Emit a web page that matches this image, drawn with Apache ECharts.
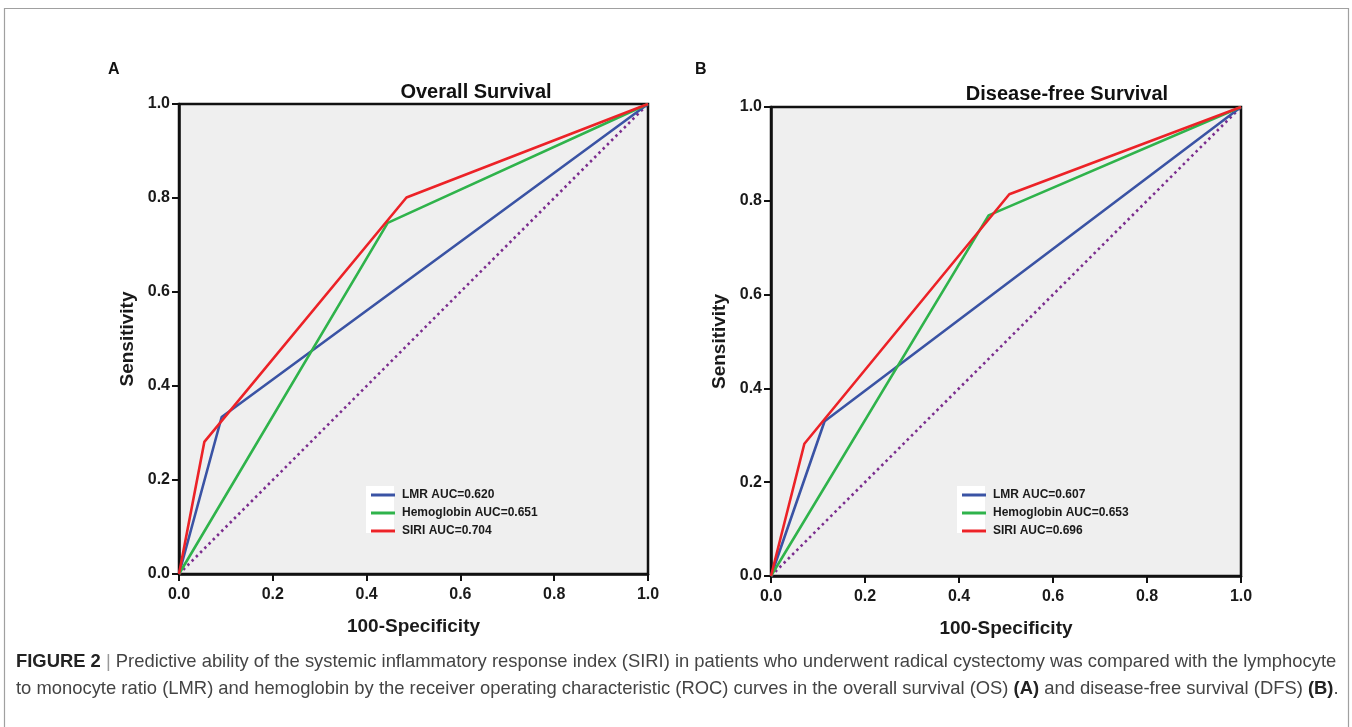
<!DOCTYPE html>
<html>
<head>
<meta charset="utf-8">
<script src="https://cdn.jsdelivr.net/npm/echarts@6/dist/echarts.min.js"></script>
<style>
html,body{margin:0;padding:0;background:#fff;}
#c{width:1352px;height:727px;}
</style>
</head>
<body>
<div id="c"></div>
<script>
// ---- Data ----
const xTicks = [0.0, 0.2, 0.4, 0.6, 0.8, 1.0];
const yTicks = [0.0, 0.2, 0.4, 0.6, 0.8, 1.0];
const refLine = [[0, 0], [1, 1]];

// Panel A: Overall Survival
const osNames = ['LMR AUC=0.620', 'Hemoglobin AUC=0.651', 'SIRI AUC=0.704'];
const osLMR = [[0, 0], [0.091, 0.334], [1, 1]];
const osHb = [[0, 0], [0.445, 0.747], [1, 1]];
const osSIRI = [[0, 0], [0.054, 0.281], [0.485, 0.801], [1, 1]];

// Panel B: Disease-free Survival
const dfsNames = ['LMR AUC=0.607', 'Hemoglobin AUC=0.653', 'SIRI AUC=0.696'];
const dfsLMR = [[0, 0], [0.114, 0.330], [1, 1]];
const dfsHb = [[0, 0], [0.463, 0.769], [1, 1]];
const dfsSIRI = [[0, 0], [0.071, 0.282], [0.507, 0.814], [1, 1]];

const colBlue = '#3a53a4', colGreen = '#2fb34b', colRed = '#ec2227', colPurple = '#7b2d8e';
const FONT = '"Liberation Sans", Arial, Helvetica, sans-serif';
const CAP = 18.4;

const chart = echarts.init(document.getElementById('c'), null, {renderer: 'canvas'});

function xAxisCfg(gi) {
  return {
    type: 'value', gridIndex: gi, min: 0, max: 1, interval: 0.2,
    name: '100-Specificity', nameLocation: 'middle', nameGap: 43,
    nameTextStyle: {fontFamily: FONT, fontWeight: 'bold', fontSize: 19, color: '#1a1a1a'},
    axisLine: {show: true, onZero: false, lineStyle: {color: '#111', width: 2.5}},
    axisTick: {show: true, inside: false, length: 7, lineStyle: {color: '#111', width: 2}},
    axisLabel: {fontFamily: FONT, fontWeight: 'bold', fontSize: 16, color: '#1a1a1a', margin: 13,
      formatter: v => v.toFixed(1)},
    splitLine: {show: false}
  };
}
function yAxisCfg(gi) {
  return {
    type: 'value', gridIndex: gi, min: 0, max: 1, interval: 0.2,
    name: 'Sensitivity', nameLocation: 'middle', nameGap: 42,
    nameTextStyle: {fontFamily: FONT, fontWeight: 'bold', fontSize: 19, color: '#1a1a1a'},
    axisLine: {show: true, onZero: false, lineStyle: {color: '#111', width: 2.5}},
    axisTick: {show: true, inside: false, length: 7, lineStyle: {color: '#111', width: 2}},
    axisLabel: {fontFamily: FONT, fontWeight: 'bold', fontSize: 16, color: '#1a1a1a', margin: 9,
      formatter: v => v.toFixed(1)},
    splitLine: {show: false}
  };
}
function lineSeries(name, data, color, gi) {
  return {
    type: 'line', name: name, data: data, xAxisIndex: gi, yAxisIndex: gi,
    showSymbol: false, symbol: 'none', animation: false,
    lineStyle: {color: color, width: 2.6}, itemStyle: {color: color}, z: 3
  };
}
function refSeries(gi) {
  return {
    type: 'line', name: 'ref' + gi, data: refLine, xAxisIndex: gi, yAxisIndex: gi,
    showSymbol: false, symbol: 'none', animation: false,
    lineStyle: {color: colPurple, width: 2.6, type: [2.5, 3.5]}, z: 2
  };
}
function legendCfg(names, left) {
  return {
    data: names, orient: 'vertical', left: left, top: 484,
    icon: 'rect', itemWidth: 24, itemHeight: 3, itemGap: 6,
    selectedMode: false,
    textStyle: {fontFamily: FONT, fontWeight: 'bold', fontSize: 12, color: '#1a1a1a', padding: [0, 0, 0, 2]}
  };
}

const option = {
  animation: false,
  backgroundColor: '#ffffff',
  grid: [
    {left: 179, top: 104, width: 469, height: 470, show: true, backgroundColor: '#efefef',
     borderColor: '#111', borderWidth: 2.5, containLabel: false},
    {left: 771, top: 107, width: 470, height: 469, show: true, backgroundColor: '#efefef',
     borderColor: '#111', borderWidth: 2.5, containLabel: false}
  ],
  xAxis: [xAxisCfg(0), xAxisCfg(1)],
  yAxis: [yAxisCfg(0), yAxisCfg(1)],
  legend: [legendCfg(osNames, 366), legendCfg(dfsNames, 957)],
  title: [
    {text: 'A', left: 103, top: 57, textStyle: {fontFamily: FONT, fontWeight: 'bold', fontSize: 16, color: '#111'}},
    {text: 'B', left: 690, top: 57, textStyle: {fontFamily: FONT, fontWeight: 'bold', fontSize: 16, color: '#111'}},
    {text: 'Overall Survival', left: 471, top: 77, textAlign: 'center',
     textStyle: {fontFamily: FONT, fontWeight: 'bold', fontSize: 20, color: '#111'}},
    {text: 'Disease-free Survival', left: 1062, top: 79, textAlign: 'center',
     textStyle: {fontFamily: FONT, fontWeight: 'bold', fontSize: 20, color: '#111'}},
    {
      left: 11, top: 643,
      text: '{b|FIGURE 2} {s||} {n|Predictive ability of the systemic inflammatory response index (SIRI) in patients who underwent radical cystectomy was compared with the lymphocyte}\n' +
            '{n|to monocyte ratio (LMR) and hemoglobin by the receiver operating characteristic (ROC) curves in the overall survival (OS)} {b|(A)} {n|and disease-free survival (DFS)} {b|(B)}{n|.}',
      textStyle: {
        fontFamily: FONT, fontSize: CAP, fontWeight: 'normal', color: '#444', lineHeight: 27,
        rich: {
          b: {fontFamily: FONT, fontWeight: 'bold', fontSize: CAP, color: '#222', lineHeight: 27},
          s: {fontFamily: FONT, fontWeight: 'normal', fontSize: CAP, color: '#999', lineHeight: 27},
          n: {fontFamily: FONT, fontWeight: 'normal', fontSize: CAP, color: '#444', lineHeight: 27}
        }
      }
    }
  ],
  graphic: [
    {type: 'rect', shape: {x: 4.5, y: 8.5, width: 1344, height: 730}, style: {fill: 'none', stroke: '#a0a0a0', lineWidth: 1.2}, z: 0, silent: true},
    {type: 'rect', shape: {x: 366, y: 486, width: 28, height: 47}, style: {fill: '#ffffff'}, z: 4, silent: true},
    {type: 'rect', shape: {x: 957, y: 486, width: 28, height: 47}, style: {fill: '#ffffff'}, z: 4, silent: true}
  ],
  series: [
    refSeries(0),
    lineSeries(osNames[0], osLMR, colBlue, 0),
    lineSeries(osNames[1], osHb, colGreen, 0),
    lineSeries(osNames[2], osSIRI, colRed, 0),
    refSeries(1),
    lineSeries(dfsNames[0], dfsLMR, colBlue, 1),
    lineSeries(dfsNames[1], dfsHb, colGreen, 1),
    lineSeries(dfsNames[2], dfsSIRI, colRed, 1)
  ]
};
chart.setOption(option);
</script>
</body>
</html>
